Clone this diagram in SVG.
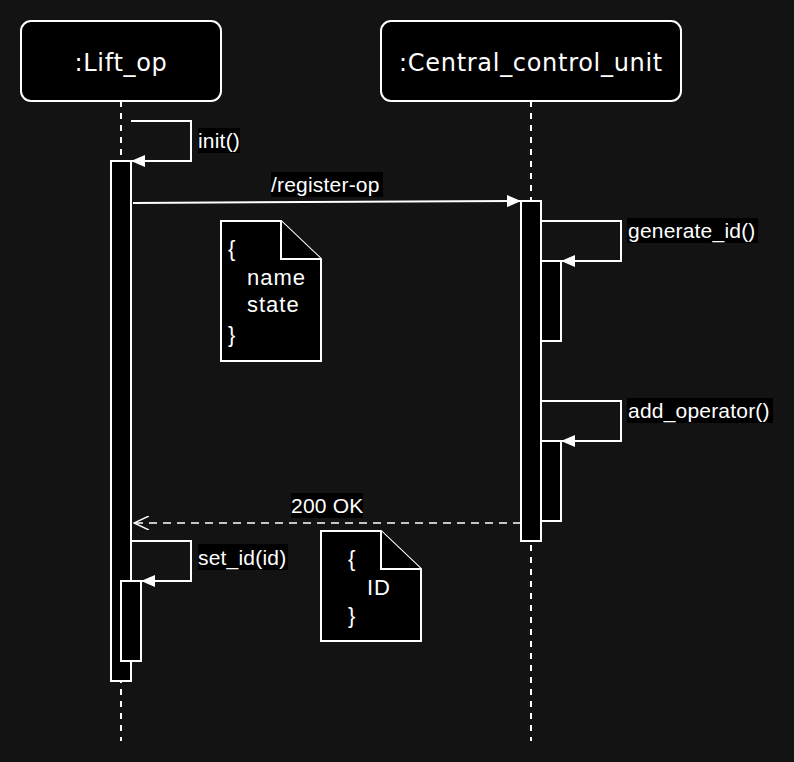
<svg xmlns="http://www.w3.org/2000/svg" width="794" height="762" viewBox="0 0 794 762">
<style>
.bg{fill:#131313}
.head{fill:#000;stroke:#fff;stroke-width:2}
.ht{font-family:"DejaVu Sans",sans-serif;font-size:24px;letter-spacing:0.7px;fill:#fff;text-anchor:middle}
.life{stroke:#fff;stroke-width:2;stroke-dasharray:6 6;fill:none}
.act{fill:#000;stroke:#fff;stroke-width:2}
.msg{stroke:#fff;stroke-width:2;fill:none}
.ret{stroke:#fff;stroke-width:1.5;fill:none;stroke-dasharray:8 6}
.lbl{font-family:"Liberation Sans",Arial,sans-serif;font-size:21px;letter-spacing:0.2px;fill:#fff}
.lblbg{fill:#000}
.note{fill:#000;stroke:#fff;stroke-width:2}
.nt{font-family:"Liberation Sans",Arial,sans-serif;font-size:22px;letter-spacing:1px;fill:#fff}
</style>
<defs>
<marker id="fa" markerWidth="14" markerHeight="12" refX="13" refY="6" orient="auto" markerUnits="userSpaceOnUse"><path d="M0,0 L14,6 L0,12 Z" fill="#fff"/></marker>
<marker id="oa" markerWidth="16" markerHeight="14" refX="15" refY="7" orient="auto" markerUnits="userSpaceOnUse"><path d="M0,0 L15,7 L0,14" fill="none" stroke="#fff" stroke-width="1.5"/></marker>
</defs>
<rect class="bg" x="0" y="0" width="794" height="762"/>
<g id="lifelines">
<line class="life" x1="121" y1="101" x2="121" y2="741"/>
<line class="life" x1="531" y1="101" x2="531" y2="741"/>
</g>
<g id="lift_op">
<rect class="head" x="21" y="21" width="200" height="80" rx="10"/>
<text class="ht" x="121" y="70.5">:Lift_op</text>
</g>
<g id="central_control_unit">
<rect class="head" x="381" y="21" width="300" height="80" rx="10"/>
<text class="ht" x="531" y="70.5">:Central_control_unit</text>
</g>
<g id="activations">
<rect class="act" x="111" y="161" width="20" height="520"/>
<rect class="act" x="121" y="581" width="20" height="80"/>
<rect class="act" x="521" y="201" width="20" height="340"/>
<rect class="act" x="541" y="261" width="20" height="80"/>
<rect class="act" x="541" y="441" width="20" height="80"/>
</g>
<g id="connectors">
<path class="msg" d="M131,121 H191 V161 H132" marker-end="url(#fa)"/>
<line class="msg" x1="133" y1="203" x2="520" y2="201" marker-end="url(#fa)"/>
<path class="msg" d="M541,221 H621 V261 H562" marker-end="url(#fa)"/>
<path class="msg" d="M541,401 H621 V441 H562" marker-end="url(#fa)"/>
<line class="ret" x1="521" y1="523" x2="134" y2="523" marker-end="url(#oa)"/>
<path class="msg" d="M131,541 H191 V581 H142" marker-end="url(#fa)"/>
</g>
<g id="labels">
<rect class="lblbg" x="198" y="128" width="42" height="25"/>
<text class="lbl" x="198" y="148">init()</text>
<rect class="lblbg" x="271" y="172" width="112" height="25"/>
<text class="lbl" x="271" y="192">/register-op</text>
<rect class="lblbg" x="627" y="218" width="131" height="25"/>
<text class="lbl" x="628" y="238">generate_id()</text>
<rect class="lblbg" x="627" y="398" width="146" height="25"/>
<text class="lbl" x="628" y="418">add_operator()</text>
<rect class="lblbg" x="291" y="493" width="72" height="25"/>
<text class="lbl" x="291" y="512.5">200 OK</text>
<rect class="lblbg" x="198" y="544" width="90" height="26"/>
<text class="lbl" x="198" y="565">set_id(id)</text>
</g>
<g id="note1">
<path class="note" d="M221,221 H281 L321,259 V361 H221 Z"/>
<path class="note" d="M281,221 V259 H321"/>
<text class="nt" x="228" y="256">{</text>
<text class="nt" x="247" y="285">name</text>
<text class="nt" x="247" y="312">state</text>
<text class="nt" x="228" y="342">}</text>
</g>
<g id="note2">
<path class="note" d="M321,531 H381 L421,569 V641 H321 Z"/>
<path class="note" d="M381,531 V569 H421"/>
<text class="nt" x="348" y="566">{</text>
<text class="nt" x="367" y="595">ID</text>
<text class="nt" x="348" y="623">}</text>
</g>
</svg>
